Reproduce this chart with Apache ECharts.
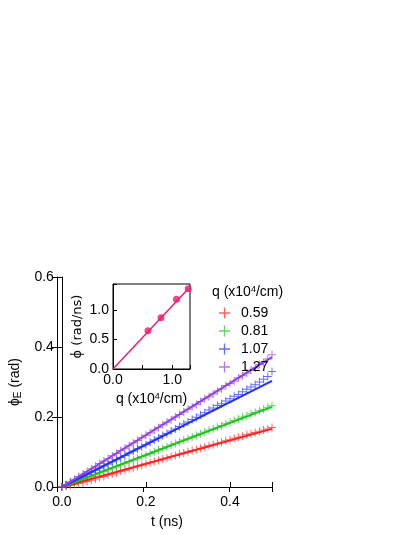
<!DOCTYPE html><html><head><meta charset="utf-8"><script src="https://cdn.jsdelivr.net/npm/echarts@6/dist/echarts.min.js"></script></head><body style="margin:0"><div id="c" style="width:414px;height:535px"></div><script>
const t=[];for(let i=0;i<=50;i++)t.push(+(i*0.01).toFixed(2));
const names=['0.59','0.81','1.07','1.27'];
const colors=['#ff2020','#20c020','#2030ff','#9040e0'];
const red=[0,0.002,0.004,0.007,0.010,0.012,0.016,0.019,0.023,0.027,0.030,0.034,0.037,0.041,0.045,0.048,0.052,0.055,0.059,0.062,0.066,0.069,0.073,0.076,0.080,0.083,0.087,0.090,0.094,0.097,0.101,0.104,0.107,0.111,0.114,0.118,0.121,0.125,0.128,0.132,0.135,0.139,0.142,0.145,0.149,0.152,0.156,0.159,0.163,0.166,0.170];
const green=[0,0.004,0.008,0.012,0.016,0.021,0.026,0.030,0.035,0.040,0.045,0.049,0.054,0.059,0.063,0.068,0.073,0.077,0.082,0.087,0.091,0.096,0.101,0.106,0.110,0.115,0.120,0.124,0.129,0.134,0.138,0.143,0.148,0.152,0.157,0.162,0.166,0.171,0.175,0.181,0.185,0.190,0.194,0.200,0.203,0.209,0.213,0.218,0.222,0.228,0.232];
const blue=[0,0.006,0.012,0.018,0.024,0.030,0.036,0.042,0.048,0.054,0.060,0.066,0.072,0.078,0.084,0.090,0.097,0.103,0.109,0.115,0.121,0.128,0.134,0.140,0.147,0.153,0.160,0.166,0.173,0.180,0.186,0.193,0.199,0.206,0.212,0.220,0.226,0.233,0.238,0.246,0.252,0.259,0.264,0.272,0.279,0.286,0.292,0.300,0.308,0.316,0.330];
const purple=[0,0.007,0.015,0.022,0.030,0.037,0.044,0.052,0.059,0.067,0.074,0.081,0.089,0.096,0.104,0.111,0.118,0.126,0.133,0.141,0.148,0.155,0.163,0.170,0.178,0.185,0.192,0.200,0.207,0.214,0.222,0.229,0.236,0.244,0.252,0.258,0.266,0.274,0.280,0.290,0.296,0.302,0.312,0.318,0.326,0.334,0.340,0.350,0.356,0.366,0.378];
const fitEnd=[0.166,0.229,0.303,0.371];
const qIn=[0.59,0.81,1.07,1.27], rateIn=[0.65,0.87,1.18,1.36];
const cross='path://M4.4,0H5.6V4.4H10V5.6H5.6V10H4.4V5.6H0V4.4H4.4Z';
const dat=[red,green,blue,purple];
const series=[];
dat.forEach((d,k)=>{
 series.push({name:names[k],type:'scatter',symbol:cross,symbolSize:8,itemStyle:{color:colors[k],opacity:0.7},data:t.map((x,i)=>[x,d[i]]),xAxisIndex:0,yAxisIndex:0,z:2});
 series.push({type:'line',showSymbol:false,lineStyle:{color:colors[k],width:2},data:[[0,0],[0.5,fitEnd[k]]],xAxisIndex:0,yAxisIndex:0,z:3,silent:true});
});
series.push({type:'line',showSymbol:false,lineStyle:{color:'#f01870',width:1.5},data:[[0,0],[qIn[3],rateIn[3]]],xAxisIndex:2,yAxisIndex:2});
series.push({type:'scatter',symbolSize:7,itemStyle:{color:'#f01870'},data:qIn.map((q,i)=>[q,rateIn[i]]),xAxisIndex:2,yAxisIndex:2});
const F='Liberation Sans';
const lab={color:'#000',fontFamily:F,fontSize:14};
const ax={axisLine:{show:true,lineStyle:{color:'#000'}},splitLine:{show:false}};
const fmt=v=>(Math.abs(v*5-Math.round(v*5))<1e-6)?v.toFixed(1):'';
const chart=echarts.init(document.getElementById('c'));
chart.setOption({animation:false,textStyle:{fontFamily:F},
grid:[{left:57,top:277,width:215,height:210},{left:57,top:277,width:215,height:210},{left:113,top:284,width:77,height:85,backgroundColor:'#fff',show:true,borderColor:'#000',borderWidth:1}],
xAxis:[
{gridIndex:0,type:'value',min:0,max:0.5,interval:0.2,...ax,axisTick:{inside:true,length:5},axisLabel:{...lab,formatter:fmt},name:'t (ns)',nameLocation:'middle',nameGap:28,nameTextStyle:lab},
{gridIndex:1,type:'value',position:'top',min:0,max:0.5,interval:0.2,...ax,axisTick:{inside:true,length:5},axisLabel:{show:false}},
{gridIndex:2,type:'value',min:0,max:1.3,interval:0.5,...ax,axisTick:{inside:true,length:4},axisLabel:{...lab,margin:4,formatter:v=>v===0?'0.0':v===1?'1.0':''},name:'q (x10{s|4}/cm)',nameLocation:'middle',nameGap:23,nameTextStyle:{...lab,rich:{s:{fontSize:9,verticalAlign:'top',padding:[0,0,6,0]}}}}],
yAxis:[
{gridIndex:0,type:'value',min:0,max:0.6,interval:0.2,...ax,axisTick:{inside:false,length:5},axisLabel:{...lab,formatter:v=>v.toFixed(1)},name:'ϕ{s|E} (rad)',nameLocation:'middle',nameGap:38,nameTextStyle:{...lab,rich:{s:{fontSize:10,padding:[7,0,0,0]}}}},
{gridIndex:1,type:'value',position:'right',min:0,max:0.6,interval:0.2,...ax,axisTick:{inside:true,length:5},axisLabel:{show:false}},
{gridIndex:2,type:'value',min:0,max:1.44,interval:0.5,...ax,axisTick:{inside:true,length:4},axisLabel:{...lab,margin:4,formatter:v=>v<=1.01?v.toFixed(1):''},name:'\u03D5\u0307 (rad/ns)',nameLocation:'middle',nameGap:29,nameTextStyle:{...lab,fontFamily:'DejaVu Sans',fontSize:13}}],
legend:{data:names,orient:'vertical',left:214,top:301,itemWidth:11,itemHeight:11,itemGap:4,textStyle:{...lab,padding:[0,0,0,6]},icon:cross},
graphic:[{type:'text',left:212,top:285,style:{text:'q (x10{s|4}/cm)',font:'14px "Liberation Sans"',fill:'#000',rich:{s:{fontSize:9,verticalAlign:'top',padding:[0,0,6,0]}}}}],
series});
</script></body></html>
